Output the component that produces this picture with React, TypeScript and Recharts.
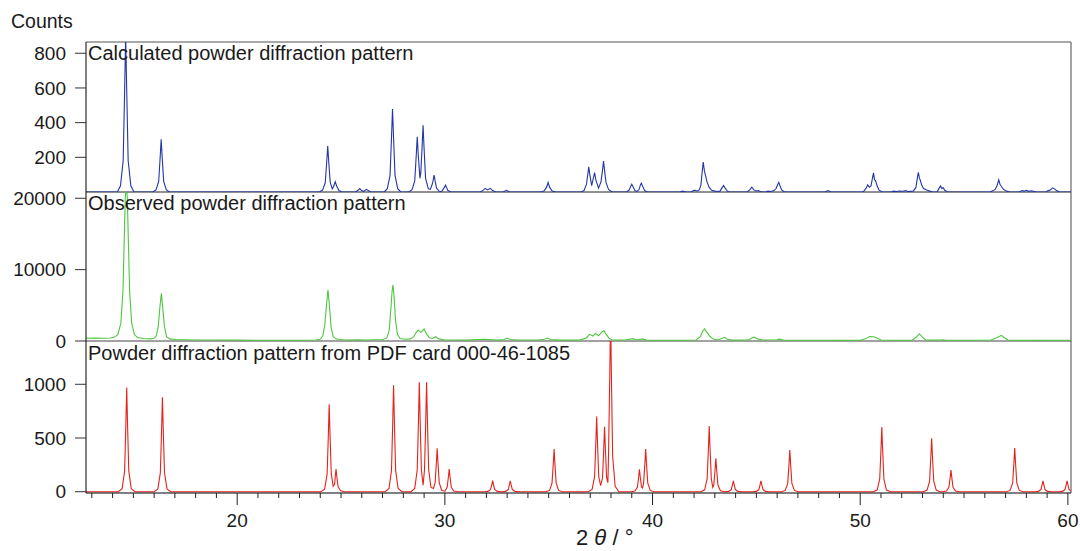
import React from 'react';
import { LineChart, Line, XAxis, YAxis } from 'recharts';

const W = 1080;
const H = 551;
const FONT = "'Liberation Sans', Arial, Helvetica, sans-serif";

// shared 2θ axis
const xDomain: [number, number] = [12.72, 60.15];
const xTicks = [13, 14, 15, 16, 17, 18, 19, 20, 21, 22, 23, 24, 25, 26, 27, 28, 29, 30, 31, 32, 33, 34, 35, 36, 37, 38, 39, 40, 41, 42, 43, 44, 45, 46, 47, 48, 49, 50, 51, 52, 53, 54, 55, 56, 57, 58, 59, 60];
const xTickLabels = [20, 30, 40, 50, 60];

// y ticks per panel
const calcTicks = [200, 400, 600, 800];
const obsTicks = [0, 10000, 20000];
const pdfTicks = [0, 500, 1000];

const calcDomain: [number, number] = [0, 865];
const obsDomain: [number, number] = [0, 20880];
const pdfDomain: [number, number] = [-12, 1403];

const panelTitles = [
  'Calculated powder diffraction pattern',
  'Observed powder diffraction pattern',
  'Powder diffraction pattern from PDF card 000-46-1085',
];

// Calculated pattern (2θ, counts)
const calcPattern: [number, number][] = [
  [12.7, 0],
  [14.23, 0], [14.38, 36], [14.51, 180], [14.58, 585], [14.63, 900], [14.68, 585], [14.75, 180], [14.88, 36], [15.03, 0],
  [15.94, 0], [16.09, 12], [16.22, 61], [16.29, 198], [16.34, 304], [16.39, 198], [16.46, 61], [16.59, 12], [16.74, 0],
  [23.96, 0], [24.11, 11], [24.24, 53], [24.31, 172], [24.36, 265], [24.41, 172], [24.48, 55], [24.58, 18], [24.65, 35], [24.72, 59], [24.79, 35], [24.9, 8], [25.05, 0],
  [25.7, 0], [25.82, 10], [25.9, 20], [25.98, 10], [26.07, 3], [26.15, 9], [26.23, 15], [26.31, 8], [26.45, 0],
  [27.08, 0], [27.23, 19], [27.36, 96], [27.43, 311], [27.48, 479], [27.53, 311], [27.6, 96], [27.73, 19], [27.88, 0],
  [28.27, 0], [28.42, 13], [28.55, 64], [28.62, 207], [28.67, 319], [28.72, 210], [28.8, 79], [28.84, 110], [28.9, 250], [28.95, 385], [29.0, 250], [29.07, 80], [29.2, 20], [29.3, 15], [29.38, 40], [29.43, 64], [29.48, 98], [29.53, 64], [29.6, 22], [29.73, 4], [29.85, 3], [29.93, 18], [29.98, 28], [30.03, 40], [30.08, 26], [30.15, 8], [30.3, 0],
  [31.7, 0], [31.82, 8], [31.94, 21], [32.05, 12], [32.19, 21], [32.3, 8], [32.45, 0],
  [32.8, 0], [32.97, 10], [33.12, 0],
  [34.62, 0], [34.77, 5], [34.9, 28], [34.97, 55], [35.04, 28], [35.17, 5], [35.32, 0],
  [36.55, 0], [36.7, 8], [36.82, 45], [36.88, 100], [36.93, 145], [36.98, 100], [37.07, 37], [37.14, 75], [37.21, 112], [37.27, 70], [37.4, 22], [37.52, 60], [37.59, 125], [37.64, 178], [37.69, 125], [37.76, 55], [37.88, 15], [38.05, 0],
  [38.75, 0], [38.88, 12], [38.95, 33], [39.0, 45], [39.06, 30], [39.15, 8], [39.25, 3], [39.35, 14], [39.41, 38], [39.46, 51], [39.52, 34], [39.62, 8], [39.75, 0],
  [41.3, 0], [41.45, 5], [41.6, 0],
  [41.85, 0], [41.98, 8], [42.05, 10], [42.15, 6], [42.25, 12], [42.33, 40], [42.39, 115], [42.44, 172], [42.5, 120], [42.56, 90], [42.62, 60], [42.72, 28], [42.85, 10], [43.0, 5], [43.15, 3],
  [43.25, 5], [43.35, 25], [43.42, 37], [43.49, 24], [43.6, 5], [43.7, 0],
  [44.55, 0], [44.68, 12], [44.78, 28], [44.88, 12], [44.98, 6], [45.1, 8], [45.2, 2], [45.3, 0],
  [45.45, 0], [45.55, 5], [45.7, 3], [45.85, 8], [45.95, 20], [46.02, 42], [46.08, 56], [46.14, 35], [46.22, 12], [46.35, 0],
  [48.3, 0], [48.45, 8], [48.6, 0],
  [50.1, 0], [50.2, 8], [50.3, 25], [50.36, 41], [50.44, 28], [50.52, 35], [50.59, 80], [50.64, 110], [50.69, 70], [50.74, 66], [50.8, 40], [50.9, 12], [51.05, 0],
  [51.5, 0], [51.6, 5], [51.75, 3], [51.9, 6], [52.05, 4], [52.2, 8], [52.3, 2],
  [52.55, 5], [52.68, 25], [52.75, 80], [52.8, 114], [52.85, 80], [52.9, 66], [52.96, 40], [53.05, 20], [53.2, 12], [53.35, 5], [53.5, 0],
  [53.7, 0], [53.78, 18], [53.87, 35], [53.93, 20], [54.0, 25], [54.07, 10], [54.2, 0],
  [56.25, 0], [56.4, 8], [56.5, 15], [56.6, 40], [56.67, 70], [56.73, 45], [56.8, 32], [56.9, 15], [57.05, 5], [57.2, 0],
  [57.65, 0], [57.8, 8], [57.9, 5], [58.0, 10], [58.1, 4], [58.25, 7], [58.4, 2], [58.5, 0],
  [58.95, 0], [59.05, 8], [59.15, 12], [59.27, 24], [59.35, 18], [59.45, 8], [59.6, 0],
  [60.2, 0],
];

// Observed pattern (2θ, counts)
const obsPattern: [number, number][] = [
  [12.7, 380], [13.2, 400], [13.6, 380], [13.9, 420], [14.1, 550], [14.25, 900], [14.4, 2500], [14.5, 7000], [14.56, 14000], [14.61, 20000], [14.66, 22000], [14.71, 20000], [14.76, 14000], [14.82, 7000], [14.92, 2500], [15.05, 900], [15.2, 500], [15.5, 350], [15.8, 300],
  [16.0, 380], [16.1, 700], [16.2, 2000], [16.27, 4500], [16.35, 6670], [16.42, 4500], [16.5, 2000], [16.6, 600], [16.75, 300], [17.0, 200],
  [18, 150], [19, 130], [20, 120], [21, 110], [22, 100], [23, 110], [23.8, 150],
  [24.0, 250], [24.12, 700], [24.22, 2300], [24.3, 5000], [24.37, 7130], [24.44, 5000], [24.52, 2000], [24.62, 600], [24.75, 300], [24.9, 200], [25.2, 130], [25.8, 180], [26.2, 140],
  [27.0, 200], [27.2, 400], [27.32, 1500], [27.4, 4500], [27.46, 7000], [27.5, 7830], [27.55, 6500], [27.62, 3000], [27.72, 900], [27.85, 350], [28.1, 250],
  [28.35, 300], [28.5, 600], [28.62, 1200], [28.71, 1540], [28.85, 1210], [29.0, 1680], [29.1, 1100], [29.25, 450], [29.4, 350], [29.56, 600], [29.7, 300], [30.0, 150],
  [30.5, 130], [31, 120], [31.9, 250], [32.1, 200], [32.5, 120], [32.85, 200], [33.0, 420], [33.15, 200], [33.5, 130],
  [34.5, 150], [34.8, 250], [34.95, 420], [35.1, 200], [35.5, 120],
  [36.5, 130], [36.8, 400], [36.97, 930], [37.13, 700], [37.26, 1070], [37.4, 750], [37.58, 1300], [37.66, 1440], [37.78, 900], [37.9, 400], [38.05, 150],
  [38.7, 130], [39.05, 330], [39.25, 150], [39.5, 300], [39.7, 120], [40.5, 100], [41.5, 110],
  [42.1, 150], [42.3, 600], [42.42, 1400], [42.5, 1680], [42.62, 1200], [42.75, 700], [42.9, 300], [43.1, 150], [43.35, 350], [43.47, 520], [43.6, 250], [43.8, 120],
  [44.6, 140], [44.8, 450], [44.9, 560], [45.05, 300], [45.3, 130], [46.0, 180], [46.1, 260], [46.3, 150],
  [47, 100], [48, 100], [49, 90], [50.0, 110], [50.25, 300], [50.45, 620], [50.65, 600], [50.85, 350], [51.0, 150], [51.5, 100],
  [52.5, 120], [52.72, 600], [52.85, 1020], [53.0, 500], [53.15, 150], [53.9, 120], [54.0, 180], [54.1, 100],
  [55, 100], [56.3, 130], [56.6, 500], [56.79, 800], [56.95, 450], [57.1, 150], [57.5, 100], [58.5, 90], [59.5, 100], [60.2, 100],
];

// PDF card 000-46-1085 pattern (2θ, intensity)
const pdfPattern: [number, number][] = [
  [12.7, 0],
  [14.28, 0], [14.46, 29], [14.58, 194], [14.64, 630], [14.68, 970], [14.72, 630], [14.78, 194], [14.9, 29], [15.08, 0],
  [16.0, 0], [16.18, 26], [16.3, 176], [16.36, 572], [16.4, 880], [16.44, 572], [16.5, 176], [16.62, 26], [16.8, 0],
  [24.03, 0], [24.21, 24], [24.33, 163], [24.39, 530], [24.43, 815], [24.47, 530], [24.53, 170], [24.62, 50], [24.69, 70], [24.72, 137], [24.76, 210], [24.8, 137], [24.86, 45], [24.98, 8], [25.16, 0],
  [27.13, 0], [27.31, 30], [27.43, 198], [27.49, 644], [27.53, 990], [27.57, 644], [27.63, 198], [27.75, 30], [27.93, 0],
  [28.37, 0], [28.55, 31], [28.67, 204], [28.73, 663], [28.77, 1020], [28.81, 663], [28.87, 204], [28.95, 60], [29.02, 204], [29.08, 663], [29.12, 1020], [29.16, 663], [29.22, 204], [29.33, 40], [29.45, 30], [29.53, 81], [29.59, 263], [29.63, 405], [29.67, 263], [29.73, 81], [29.85, 12], [30.0, 5], [30.11, 42], [30.17, 137], [30.21, 210], [30.25, 137], [30.31, 42], [30.43, 6], [30.61, 0],
  [31.9, 0], [32.08, 3], [32.2, 21], [32.26, 67], [32.3, 103], [32.34, 67], [32.4, 21], [32.52, 3], [32.7, 0],
  [32.75, 0], [32.93, 3], [33.05, 20], [33.11, 65], [33.15, 100], [33.19, 65], [33.25, 20], [33.37, 3], [33.55, 0],
  [34.86, 0], [35.04, 12], [35.16, 80], [35.22, 259], [35.26, 398], [35.3, 259], [35.36, 80], [35.48, 12], [35.66, 0],
  [36.91, 0], [37.09, 21], [37.21, 140], [37.27, 455], [37.31, 700], [37.35, 455], [37.41, 140], [37.5, 56], [37.59, 125], [37.65, 393], [37.69, 605], [37.73, 393], [37.79, 130], [37.85, 84], [37.88, 330], [37.94, 1070], [37.98, 1650], [38.02, 1070], [38.08, 330], [38.2, 50], [38.38, 0],
  [38.97, 0], [39.15, 6], [39.27, 42], [39.33, 135], [39.37, 208], [39.41, 135], [39.47, 45], [39.52, 35], [39.57, 80], [39.63, 259], [39.67, 398], [39.71, 259], [39.77, 80], [39.89, 12], [40.07, 0],
  [42.33, 0], [42.51, 18], [42.63, 122], [42.69, 398], [42.73, 612], [42.77, 398], [42.83, 122], [42.9, 40], [42.95, 62], [43.01, 202], [43.05, 311], [43.09, 202], [43.15, 62], [43.27, 9], [43.45, 0],
  [43.49, 0], [43.67, 3], [43.79, 20], [43.85, 66], [43.89, 102], [43.93, 66], [43.99, 20], [44.11, 3], [44.29, 0],
  [44.82, 0], [45.0, 3], [45.12, 20], [45.18, 66], [45.22, 102], [45.26, 66], [45.32, 20], [45.44, 3], [45.62, 0],
  [46.21, 0], [46.39, 12], [46.51, 78], [46.57, 252], [46.61, 388], [46.65, 252], [46.71, 78], [46.83, 12], [47.01, 0],
  [50.64, 0], [50.82, 18], [50.94, 120], [51.0, 391], [51.04, 602], [51.08, 391], [51.14, 120], [51.26, 18], [51.44, 0],
  [53.04, 0], [53.22, 15], [53.34, 99], [53.4, 323], [53.44, 497], [53.48, 323], [53.54, 99], [53.66, 15], [53.84, 0],
  [53.97, 0], [54.15, 6], [54.27, 40], [54.33, 131], [54.37, 202], [54.41, 131], [54.47, 40], [54.59, 6], [54.77, 0],
  [57.04, 0], [57.22, 12], [57.34, 81], [57.4, 265], [57.44, 407], [57.48, 265], [57.54, 81], [57.66, 12], [57.84, 0],
  [58.4, 0], [58.58, 3], [58.7, 20], [58.76, 66], [58.8, 102], [58.84, 66], [58.9, 20], [59.02, 3], [59.2, 0],
  [59.56, 0], [59.74, 3], [59.86, 20], [59.92, 66], [59.96, 102], [60.0, 66], [60.06, 20], [60.18, 3], [60.3, 0],
];

const toRows = (pts: [number, number][]) => pts.map(([x, y]) => ({ x, y }));

const XTick = (props: any) => {
  const { x, y, payload } = props;
  const v = payload.value as number;
  const major = xTickLabels.includes(v);
  return (
    <g>
      <line x1={x} x2={x} y1={y} y2={y + (major ? 12 : 5)} stroke="#222" strokeWidth={1} />
      {major && (
        <text x={x} y={y + 34} textAnchor="middle" fontSize={19} fill="#1a1a1a" fontFamily={FONT}>
          {v}
        </text>
      )}
    </g>
  );
};

type PanelProps = {
  pts: [number, number][];
  color: string;
  top: number;
  bottom: number;
  domain: [number, number];
  ticks: number[];
  showX?: boolean;
};

function Panel({ pts, color, top, bottom, domain, ticks, showX }: PanelProps) {
  return (
    <div style={{ position: 'absolute', left: 0, top: 0 }}>
      <LineChart
        width={W}
        height={H}
        data={toRows(pts)}
        margin={{ top, right: 9, left: 0, bottom: showX ? 0 : H - bottom }}
      >
        <XAxis
          dataKey="x"
          type="number"
          domain={xDomain}
          allowDataOverflow
          hide={!showX}
          ticks={xTicks}
          interval={0}
          tick={<XTick />}
          tickLine={false}
          tickSize={0}
          tickMargin={0}
          height={58}
          axisLine={{ stroke: '#000', strokeWidth: 1 }}
        />
        <YAxis
          type="number"
          domain={domain}
          allowDataOverflow
          ticks={ticks}
          interval={0}
          width={86}
          tickSize={11}
          tickMargin={9}
          axisLine={{ stroke: '#000', strokeWidth: 1 }}
          tickLine={{ stroke: '#333', strokeWidth: 1 }}
          tick={{ fontSize: 19, fill: '#1a1a1a', fontFamily: FONT }}
        />
        <Line
          dataKey="y"
          type="linear"
          stroke={color}
          strokeWidth={1.1}
          dot={false}
          activeDot={false}
          isAnimationActive={false}
        />
      </LineChart>
    </div>
  );
}

export default function App() {
  return (
    <div
      style={{
        position: 'absolute',
        left: 0,
        top: 0,
        width: W,
        height: H,
        background: '#fff',
        fontFamily: FONT,
        overflow: 'hidden',
      }}
    >
      <svg width={W} height={H} style={{ position: 'absolute', left: 0, top: 0 }}>
        <line x1={86} x2={1071} y1={42} y2={42} stroke="#555" strokeWidth={1.2} />
        <line x1={1071} x2={1071} y1={42} y2={493} stroke="#666" strokeWidth={1.2} />
        <line x1={86} x2={1071} y1={192} y2={192} stroke="#222" strokeWidth={1} />
        <line x1={86} x2={1071} y1={341} y2={341} stroke="#444" strokeWidth={1} />
      </svg>
      <Panel pts={calcPattern} color="#2236a8" top={42} bottom={192} domain={calcDomain} ticks={calcTicks} />
      <Panel pts={obsPattern} color="#4fc63f" top={192} bottom={341} domain={obsDomain} ticks={obsTicks} />
      <Panel pts={pdfPattern} color="#e3231b" top={341} bottom={493} domain={pdfDomain} ticks={pdfTicks} showX />
      <svg width={W} height={H} style={{ position: 'absolute', left: 0, top: 0, pointerEvents: 'none' }}>
        <text x={11} y={28} fontSize={19.5} fill="#1a1a1a" fontFamily={FONT}>Counts</text>
        <text x={88} y={60} fontSize={20} fill="#1a1a1a" fontFamily={FONT}>{panelTitles[0]}</text>
        <text x={88} y={210} fontSize={20} fill="#1a1a1a" fontFamily={FONT}>{panelTitles[1]}</text>
        <text x={88} y={360} fontSize={20} fill="#1a1a1a" fontFamily={FONT}>{panelTitles[2]}</text>
        <text x={576} y={545} fontSize={22} fill="#1a1a1a" fontFamily={FONT}>
          2 <tspan fontStyle="italic">θ</tspan> / °
        </text>
      </svg>
    </div>
  );
}
